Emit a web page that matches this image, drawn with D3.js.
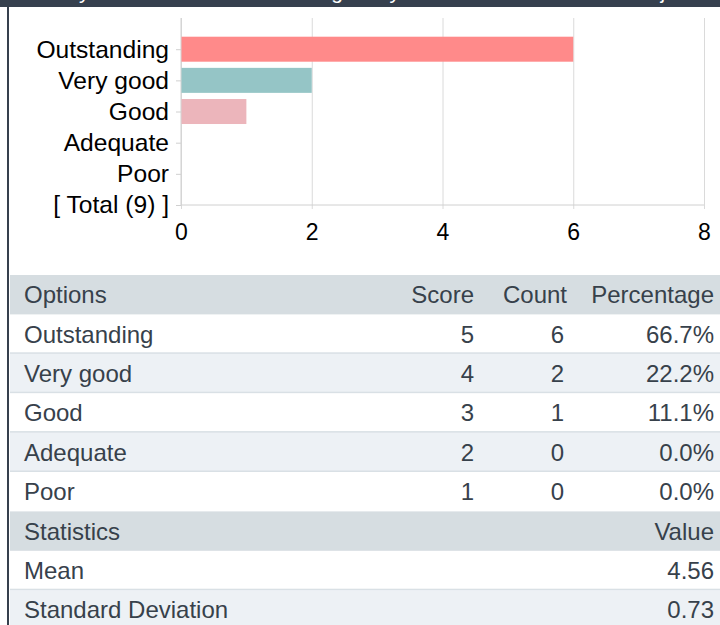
<!DOCTYPE html>
<html>
<head>
<meta charset="utf-8">
<script src="https://cdn.jsdelivr.net/npm/d3@7"></script>
<style>
  html, body { margin: 0; padding: 0; background: #fff; overflow: hidden; }
  svg { display: block; font-family: "Liberation Sans", Arial, sans-serif; }
</style>
</head>
<body>
<svg id="chart" width="720" height="625"></svg>
<script>
// Survey question and answer data
const questionTitle = "How do you rate the overall teaching that you have received in this subject?";
const options = ["Outstanding", "Very good", "Good", "Adequate", "Poor"];
const scores = [5, 4, 3, 2, 1];
const counts = [6, 2, 1, 0, 0];
const barColors = ["#ff8a8a", "#95c5c6", "#ecb5bb", "#c8c8c8", "#c8c8c8"];
const xTicks = [0, 2, 4, 6, 8];

const total = d3.sum(counts);
const totalLabel = `[ Total (${total}) ]`;
const categories = options.concat([totalLabel]);

// Summary statistics from the score distribution
const responses = options.flatMap((o, i) => d3.range(counts[i]).map(() => scores[i]));
const mean = d3.mean(responses);
const sd = d3.deviation(responses);

const svg = d3.select("#chart");
const ink = "#37414b";
const frame = "#36404e";

// Title bar (scrolled so only its lower edge shows) and left frame
svg.append("rect").attr("x", 0).attr("y", 0).attr("width", 720).attr("height", 7).attr("fill", frame);
svg.append("text").attr("x", 2).attr("y", -0.6)
  .attr("fill", "#fff").attr("font-size", 21).text(questionTitle);
svg.append("rect").attr("x", 7).attr("y", 0).attr("width", 2).attr("height", 625).attr("fill", frame);

// ---- Bar chart ----
const x = d3.scaleLinear().domain([0, 8]).range([181, 704]);
const y = d3.scalePoint().domain(categories).range([49.2, 205]);
const plotTop = 18, plotBottom = 205;

const gx = svg.append("g").attr("transform", `translate(0,${plotBottom})`)
  .call(d3.axisBottom(x).tickValues(xTicks).tickSize(-(plotBottom - plotTop)).tickPadding(19));
gx.attr("font-family", "Liberation Sans, Arial, sans-serif");
gx.select(".domain").remove();
gx.selectAll(".tick line").attr("stroke", "#dadada");
gx.selectAll(".tick text").style("font-size", "23px").attr("fill", "#000");

// small ticks below the axis
gx.selectAll(".tick").append("line").attr("y1", 0).attr("y2", 4).attr("stroke", "#dadada");

const gy = svg.append("g").attr("transform", `translate(${x(0)},0)`)
  .call(d3.axisLeft(y).tickSize(5).tickPadding(7));
gy.attr("font-family", "Liberation Sans, Arial, sans-serif");
gy.select(".domain").remove();
gy.selectAll(".tick line").attr("stroke", "#d0d0d0");
gy.selectAll(".tick text").style("font-size", "24.6px").attr("fill", "#000");

svg.append("line").attr("x1", x(0)).attr("x2", x(0)).attr("y1", plotTop).attr("y2", plotBottom)
  .attr("stroke", "#d0d0d0");
svg.append("line").attr("x1", x(0)).attr("x2", x(8)).attr("y1", plotBottom).attr("y2", plotBottom)
  .attr("stroke", "#d0d0d0");

const barH = 25;
svg.append("g").selectAll("rect").data(options.map((o, i) => ({ o, v: counts[i], c: barColors[i] })))
  .join("rect")
  .attr("x", x(0) + 0.5)
  .attr("y", d => y(d.o) - barH / 2)
  .attr("width", d => Math.max(0, x(d.v) - x(0) - 0.5))
  .attr("height", barH)
  .attr("fill", d => d.c);

// ---- Results table ----
const tableTop = 275, rowH = 39.4;
const colScore = 474, colCount = 564, colRight = 714, colLeft = 24;

const rows = [
  { type: "head", cells: ["Options", "Score", "Count", "Percentage"] },
  ...options.map((o, i) => ({
    type: "data",
    cells: [o, String(scores[i]), String(counts[i]), d3.format(".1%")(counts[i] / total)]
  })),
  { type: "head", cells: ["Statistics", null, null, "Value"] },
  { type: "data", cells: ["Mean", null, null, d3.format(".2f")(mean)] },
  { type: "data", cells: ["Standard Deviation", null, null, d3.format(".2f")(sd)] }
];

let stripe = 0;
const tg = svg.append("g").attr("font-size", 24).attr("fill", ink);
rows.forEach((r, i) => {
  const top = tableTop + i * rowH;
  let fill;
  if (r.type === "head") { fill = "#d6dde1"; stripe = 0; }
  else { fill = stripe % 2 === 0 ? "#ffffff" : "#edf1f5"; stripe++; }
  tg.append("rect").attr("x", 10).attr("y", top).attr("width", 710).attr("height", rowH + 0.6).attr("fill", fill);
  const next = rows[i + 1];
  if (r.type === "data" && next && next.type === "data") {
    tg.append("rect").attr("x", 10).attr("y", top + rowH - 1.5).attr("width", 710).attr("height", 2)
      .attr("fill", "#d9e0e5");
  }
  const base = top + 19.7 + 8.5;
  const [c0, c1, c2, c3] = r.cells;
  tg.append("text").attr("x", colLeft).attr("y", base).text(c0);
  if (c1 != null) tg.append("text").attr("x", colScore).attr("y", base).attr("text-anchor", "end").text(c1);
  if (c2 != null) tg.append("text").attr("x", colCount).attr("y", base).attr("text-anchor", "end")
    .attr("dx", r.type === "head" ? 3 : 0).text(c2);
  if (c3 != null) tg.append("text").attr("x", colRight).attr("y", base).attr("text-anchor", "end").text(c3);
});
</script>
</body>
</html>
